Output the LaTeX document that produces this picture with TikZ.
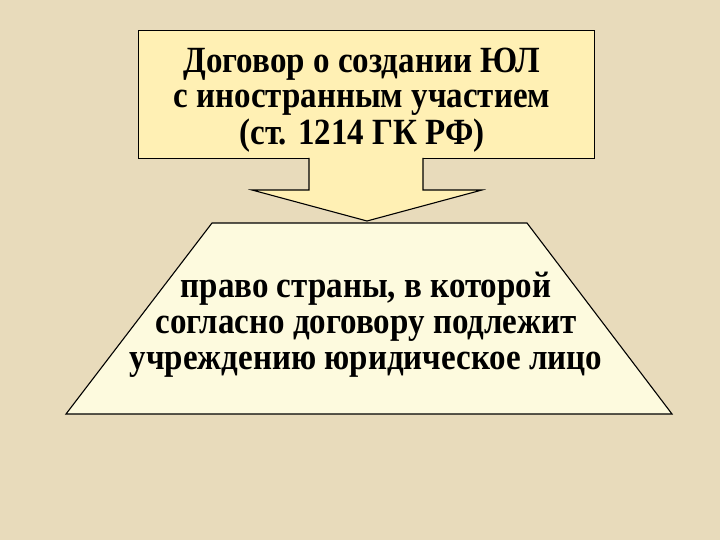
\documentclass[tikz,border=0pt]{standalone}
\usepackage{fontspec}
\usepackage{graphicx}
\setmainfont{Liberation Serif}
\definecolor{bgcol}{RGB}{232,219,187}
\definecolor{boxcol}{RGB}{255,240,180}
\definecolor{trapcol}{RGB}{253,250,222}
\newcommand{\tallblock}[1]{\scalebox{1}[1.12]{\fontsize{33}{32}\selectfont\bfseries\begin{tabular}{@{}c@{}}#1\end{tabular}}}
\tikzset{
  outline/.style={draw=black, line width=1.1pt, line join=miter},
  label/.style={align=center, text=black, inner sep=0pt}
}
\begin{document}
\begin{tikzpicture}[x=1pt,y=-1pt]
  \fill[bgcol] (0,0) rectangle (720,540);
  \useasboundingbox (0,0) rectangle (720,540);
  % top box
  \node[outline, fill=boxcol, minimum width=456pt, minimum height=128pt, inner sep=0pt, anchor=north west] (top) at (138,30) {};
  \node[label] (toptext) at (362,101) {\tallblock{Договор о создании ЮЛ\\с иностранным участием\\(ст. 1214 ГК РФ)}};
  % block arrow
  \coordinate (sL) at (309,158);
  \coordinate (sR) at (423,158);
  \coordinate (tip) at (367,221);
  \fill[boxcol] (309,156) -- (309,190) -- (252,190) -- (tip) -- (482,190) -- (423,190) -- (423,156) -- cycle;
  \draw[outline] (sL) -- (309,190) -- (252,190) -- (tip) -- (482,190) -- (423,190) -- (sR);
  % trapezoid
  \coordinate (tl) at (212,223);
  \coordinate (tr) at (527,223);
  \coordinate (br) at (672,414);
  \coordinate (bl) at (66,414);
  \filldraw[outline, fill=trapcol] (tl) -- (tr) -- (br) -- (bl) -- cycle;
  \node[label] (bottext) at (366,326) {\tallblock{право страны, в которой\\согласно договору подлежит\\учреждению юридическое лицо}};
\end{tikzpicture}
\end{document}
